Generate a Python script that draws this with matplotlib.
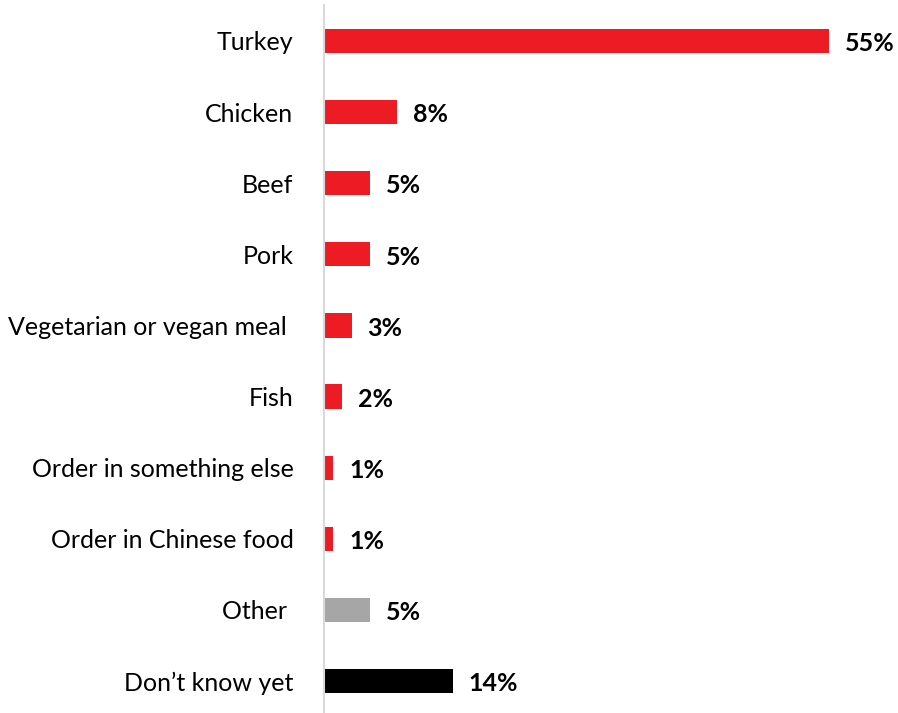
import matplotlib.pyplot as plt

plt.rcParams['font.family'] = ['Lato', 'DejaVu Sans']

categories = ["Turkey", "Chicken", "Beef", "Pork", "Vegetarian or vegan meal ",
              "Fish", "Order in something else", "Order in Chinese food",
              "Other ", "Don\u2019t know yet"]
values = [55, 8, 5, 5, 3, 2, 1, 1, 5, 14]
colors = ["#ed1c24"] * 8 + ["#a6a6a6", "#000000"]

fig = plt.figure(figsize=(8.98, 7.13), dpi=100)
ax = fig.add_axes([0.3608, 0.0, 0.6136, 1 - 5 / 713])

pos = list(range(len(categories)))
ax.barh(pos, values, height=0.34, color=colors)
for y, v in zip(pos, values):
    ax.annotate(f"{v}%", (v, y), xytext=(11.5, -2), textcoords="offset points",
                va="center", ha="left", fontsize=18, fontweight="bold")

ax.set_xlim(0, 60)
ax.set_ylim(len(categories) - 1 + 0.45, -0.506)
ax.set_yticks(pos)
ax.set_yticklabels(categories, fontsize=18)
ax.tick_params(axis="y", length=0, pad=22)
ax.set_xticks([])
for side in ["top", "right", "bottom"]:
    ax.spines[side].set_visible(False)
ax.spines["left"].set_color("#d9d9d9")
ax.spines["left"].set_linewidth(1.5)

fig.savefig("out.png", dpi=100)
